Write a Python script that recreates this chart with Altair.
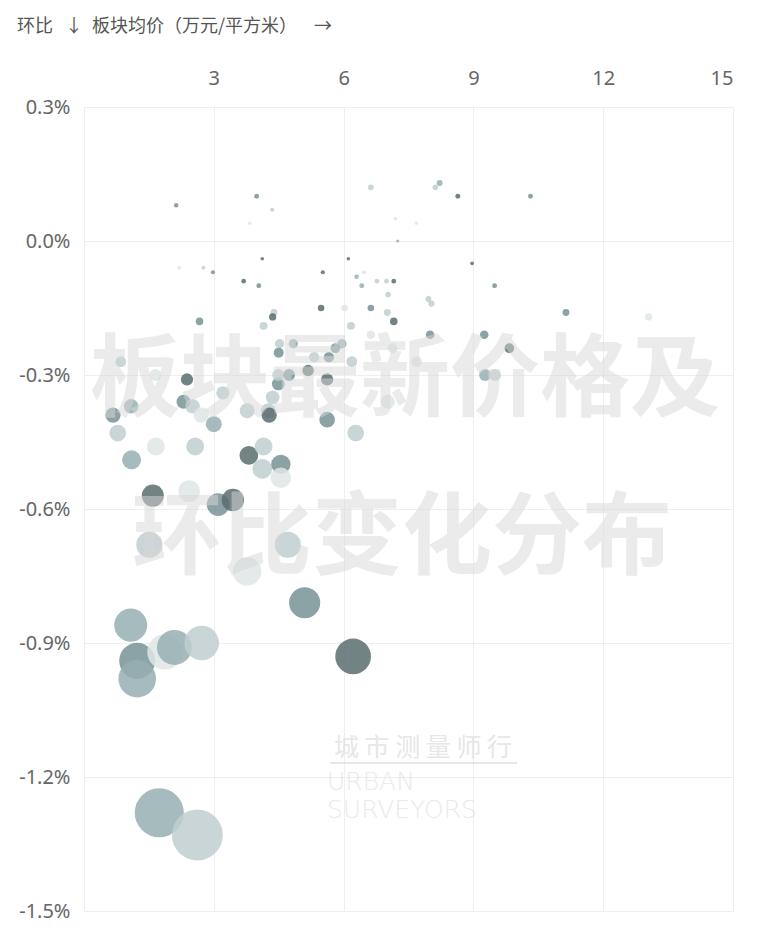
import altair as alt
import pandas as pd

# 板块均价（万元/平方米）
price = [2.13, 3.99, 4.35, 3.83, 6.63, 8.22, 8.12, 8.64, 10.32, 7.20, 7.68, 7.25,
         2.20, 2.76, 2.98, 4.12, 3.69, 4.04, 6.11, 5.52, 8.97, 6.30, 6.47, 6.42,
         6.77, 6.99, 7.16, 7.03, 9.49, 7.96, 8.03, 5.48, 6.02, 6.63, 7.01, 7.16,
         6.17, 6.63, 8.00, 9.25, 9.83, 5.96, 5.81, 5.32, 5.66, 6.19, 5.18, 11.14,
         13.05, 9.27, 9.50, 7.69, 2.67, 4.39, 4.36, 4.15, 0.85, 4.52, 4.84, 4.50,
         1.65, 2.38, 0.67, 1.09, 2.30, 2.51, 3.21, 3.00, 2.71, 0.78, 1.66, 2.57,
         1.10, 3.77, 4.26, 4.28, 4.36, 4.49, 4.49, 3.81, 4.15, 4.12, 4.55, 4.55,
         1.59, 2.43, 3.10, 3.44, 4.74, 5.62, 5.62, 6.28, 1.51, 3.77, 4.71, 5.10,
         1.08, 1.23, 1.23, 1.87, 2.09, 2.72, 6.22, 1.74, 2.62, 7.13, 7.02]
# 环比（%）
mom = [0.08, 0.10, 0.07, 0.04, 0.12, 0.13, 0.12, 0.10, 0.10, 0.05, 0.04, 0.00,
       -0.06, -0.06, -0.07, -0.04, -0.09, -0.10, -0.04, -0.07, -0.05, -0.08, -0.07, -0.10,
       -0.09, -0.09, -0.09, -0.12, -0.10, -0.13, -0.14, -0.15, -0.15, -0.15, -0.16, -0.18,
       -0.19, -0.21, -0.21, -0.21, -0.24, -0.23, -0.24, -0.26, -0.26, -0.27, -0.29, -0.16,
       -0.17, -0.30, -0.30, -0.27, -0.18, -0.16, -0.17, -0.19, -0.27, -0.23, -0.23, -0.25,
       -0.30, -0.31, -0.39, -0.37, -0.36, -0.37, -0.34, -0.41, -0.39, -0.43, -0.46, -0.46,
       -0.49, -0.38, -0.38, -0.39, -0.35, -0.32, -0.30, -0.48, -0.46, -0.51, -0.50, -0.53,
       -0.57, -0.56, -0.59, -0.58, -0.30, -0.31, -0.40, -0.43, -0.68, -0.74, -0.68, -0.81,
       -0.86, -0.94, -0.98, -0.92, -0.91, -0.90, -0.93, -1.28, -1.33, -0.24, -0.36]
# 深浅分级
shade = [4, 4, 2, 1, 2, 3, 2, 5, 4, 1, 1, 3,
         1, 2, 4, 5, 5, 4, 5, 5, 5, 3, 1, 3,
         2, 2, 5, 2, 4, 2, 2, 5, 1, 4, 2, 5,
         2, 1, 4, 4, 5, 3, 4, 2, 4, 2, 5, 4,
         1, 3, 2, 1, 4, 2, 5, 2, 2, 2, 3, 4,
         1, 5, 4, 3, 4, 2, 2, 3, 1, 2, 1, 2,
         3, 2, 2, 5, 2, 4, 2, 5, 2, 2, 4, 1,
         5, 1, 4, 5, 4, 5, 4, 2, 2, 1, 2, 4,
         3, 4, 3, 1, 3, 2, 5, 3, 2, 1, 1]

shade_levels = [1, 2, 3, 4, 5]
shade_colors = ["#dfe6e6", "#bfcecf", "#97afb1", "#789396", "#5b6c6e"]

y_ticks = [0.3, 0.0, -0.3, -0.6, -0.9, -1.2, -1.5]
x_ticks = [0, 3, 6, 9, 12, 15]

title_a = ["环比"]
title_b = ["↓"]
title_c = ["板块均价（万元/平方米）"]
title_d = ["→"]
wm_line1 = ["板块最新价格及"]
wm_line2 = ["环比变化分布"]
logo_cn = ["城 市 测 量 师 行"]
logo_en1 = ["URBAN"]
logo_en2 = ["SURVEYORS"]

FONT = "Noto Sans CJK SC"

df = pd.DataFrame({"price": price, "mom": mom, "shade": shade})

points = alt.Chart(df).transform_calculate(
    mag="abs(datum.mom)"
).mark_circle(opacity=0.85).encode(
    x=alt.X("price:Q",
            scale=alt.Scale(domain=[0, 15], nice=False, zero=False),
            axis=alt.Axis(orient="top", values=x_ticks, title=None, ticks=False,
                          domain=False, labelPadding=19, labelFontSize=20,
                          labelColor="#666666", labelFont="Noto Sans",
                          labelExpr="datum.value == 0 ? '' : datum.label",
                          gridColor="#efefef", gridWidth=1)),
    y=alt.Y("mom:Q",
            scale=alt.Scale(domain=[-1.5, 0.3], nice=False, zero=False),
            axis=alt.Axis(values=y_ticks, title=None, ticks=False, domain=False,
                          labelPadding=14, labelFontSize=20, labelColor="#666666",
                          labelFont="Noto Sans",
                          labelExpr="(datum.value < -0.001 ? '-' : '') + format(abs(datum.value), '.1f') + '%'",
                          gridColor="#efefef", gridWidth=1)),
    size=alt.Size("mag:Q",
                  scale=alt.Scale(type="pow", exponent=2, domain=[0, 1.5], range=[10, 3300]),
                  legend=None),
    color=alt.Color("shade:O",
                    scale=alt.Scale(domain=shade_levels, range=shade_colors),
                    legend=None),
)


def text_layer(lines, x, y, size, weight="normal", color="#d8d8d8", opacity=0.5,
               align="center", font=FONT):
    return alt.Chart(pd.DataFrame({"t": lines})).mark_text(
        font=font, fontSize=size, fontWeight=weight, color=color, opacity=opacity,
        align=align, baseline="middle"
    ).encode(text="t:N", x=alt.value(x), y=alt.value(y))


wm1 = text_layer(wm_line1, 321, 275, 90, weight="bold")
wm2 = text_layer(wm_line2, 318, 433, 90, weight="bold")
logo1 = text_layer(logo_cn, 339, 641, 25, color="#dddddd", opacity=0.7)
logo2 = text_layer(logo_en1, 243, 675, 25, color="#dddddd", opacity=0.6, align="left",
                   font="DejaVu Sans", weight=200)
logo3 = text_layer(logo_en2, 243, 703, 25, color="#dddddd", opacity=0.6, align="left",
                   font="DejaVu Sans", weight=200)
underline = alt.Chart(pd.DataFrame({"t": logo_cn})).mark_rule(
    color="#dddddd", strokeWidth=2, opacity=0.7
).encode(x=alt.value(246), x2=alt.value(433), y=alt.value(656))

t1 = text_layer(title_a, -67, -80, 18, color="#555555", opacity=1, align="left")
t2 = text_layer(title_b, -19, -80, 18, color="#555555", opacity=1, align="left")
t3 = text_layer(title_c, 8, -80, 18, color="#555555", opacity=1, align="left")
t4 = text_layer(title_d, 230, -80, 18, color="#555555", opacity=1, align="left")

chart = alt.layer(points, wm1, wm2, logo1, underline, logo2, logo3,
                  t1, t2, t3, t4).properties(
    width=649, height=804,
    autosize=alt.AutoSizeParams(type="none"),
    padding={"left": 76, "top": 99, "right": 20, "bottom": 16},
).configure_view(stroke=None)

chart.save("out.html", embed_options={"renderer": "svg", "actions": False})
